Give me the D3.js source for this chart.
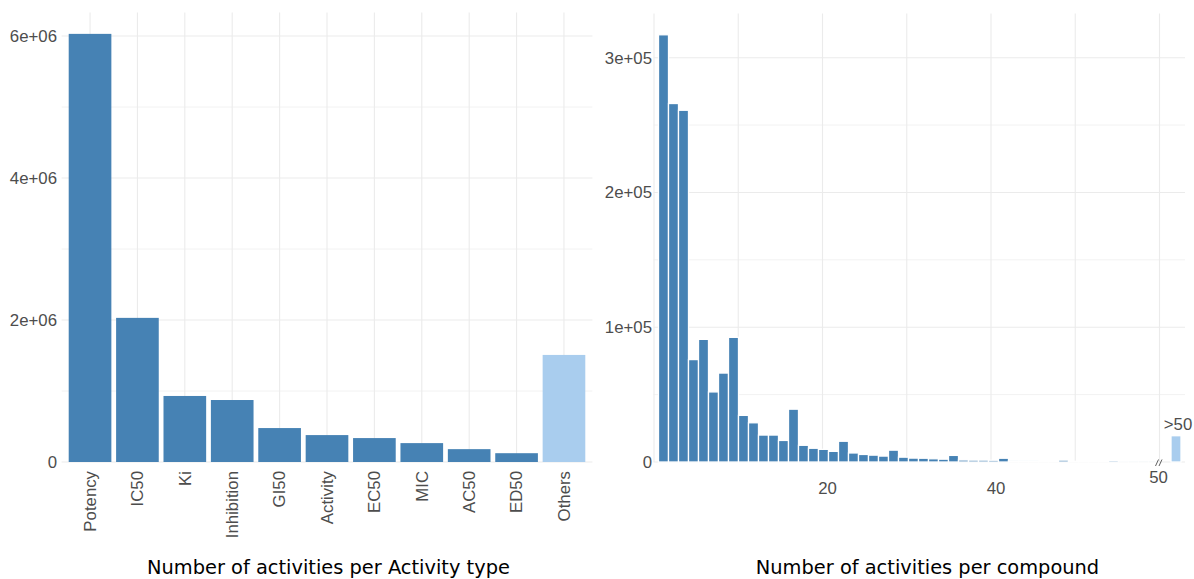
<!DOCTYPE html>
<html><head><meta charset="utf-8">
<script src="https://cdn.jsdelivr.net/npm/d3@7"></script>
<style>body{margin:0;background:#fff}svg{display:block}</style>
</head><body><svg id="c" width="1194" height="579"></svg>
<script>
// ---------- DATA ----------
const activityTypes = ["Potency","IC50","Ki","Inhibition","GI50","Activity","EC50","MIC","AC50","ED50","Others"];
const activityCounts = [6030000,2030000,930000,873000,478000,379000,337000,266000,181000,124000,1508000];
const highlightTypes = ["Others"];
const leftTickValues = [0,2e6,4e6,6e6];
const leftTickLabels = ["0","2e+06","4e+06","6e+06"];
const leftMinorTicks = [1e6,3e6,5e6];

const compoundBins = [1,2,3,4,5,6,7,8,9,10,11,12,13,14,15,16,17,18,19,20,21,22,23,24,25,26,27,28,29,30,31,32,33,34,35,36,37,38,39,40,41,42,43,44,45,46,47,48,49,50];
const compoundCounts = [317000,266000,261000,76000,91000,52000,66000,92500,34600,29100,20000,20000,16000,39200,12400,10200,9400,7900,15400,6700,5600,5100,4400,8800,3600,2900,2800,2400,2100,4900,1500,1400,1400,1300,2800,900,800,800,600,600,1400,500,400,400,400,1100,200,150,100,100];
const overflowLabel = ">50";
const overflowCount = 19500;
const rightTickValues = [0,1e5,2e5,3e5];
const rightTickLabels = ["0","1e+05","2e+05","3e+05"];
const rightMinorTicks = [5e4,1.5e5,2.5e5];
const rightGridValues = [0,10,20,30,40,50,60];
const rightXTickValues = [20,40];
const rightXTickLabels = ["20","40"];
const breakLabel = "50";

const leftTitle = "Number of activities per Activity type";
const rightTitle = "Number of activities per compound";

// ---------- STYLE ----------
const dark = "#4682b4", light = "#a9cdee";
const tickFont = "'Liberation Sans', Arial, sans-serif";
const titleFont = "'DejaVu Sans', sans-serif";
const tickColor = "#4d4d4d";
const gridMajor = "#ebebeb", gridMinor = "#f2f2f2";

const svg = d3.select("#c");
svg.append("rect").attr("width",1194).attr("height",579).attr("fill","#fff");

// ---------- LEFT PANEL ----------
const L = {x0: 61.6, x1: 592.4, y0: 462};
const xL = d3.scaleBand().domain(activityTypes).range([L.x0, L.x1]).paddingInner(0.1).paddingOuter(0.15);
const maxL = d3.max(activityCounts) * 1.05;
const yL = d3.scaleLinear().domain([0, maxL]).range([L.y0, L.y0 - maxL/1e6*71]);
const gL = svg.append("g");
gL.selectAll(".mn").data(leftMinorTicks).join("line")
  .attr("x1",L.x0).attr("x2",L.x1).attr("y1",d=>yL(d)).attr("y2",d=>yL(d))
  .attr("stroke",gridMinor).attr("stroke-width",1);
gL.selectAll(".mj").data(leftTickValues).join("line")
  .attr("x1",L.x0).attr("x2",L.x1).attr("y1",d=>yL(d)).attr("y2",d=>yL(d))
  .attr("stroke",gridMajor).attr("stroke-width",1.1);
gL.selectAll(".vg").data(activityTypes).join("line")
  .attr("x1",d=>xL(d)+xL.bandwidth()/2).attr("x2",d=>xL(d)+xL.bandwidth()/2)
  .attr("y1",yL(maxL)).attr("y2",L.y0)
  .attr("stroke",gridMajor).attr("stroke-width",1.1);
gL.selectAll(".bar").data(activityTypes).join("rect")
  .attr("x",d=>xL(d)).attr("width",xL.bandwidth())
  .attr("y",(d,i)=>yL(activityCounts[i])).attr("height",(d,i)=>yL(0)-yL(activityCounts[i]))
  .attr("fill",d=>highlightTypes.includes(d)?light:dark);
gL.selectAll(".yl").data(leftTickValues).join("text")
  .attr("x",57).attr("y",d=>yL(d)).attr("dy","0.35em").attr("text-anchor","end")
  .attr("font-family",tickFont).attr("font-size",16.8).attr("fill",tickColor)
  .text((d,i)=>leftTickLabels[i]);
gL.selectAll(".xl").data(activityTypes).join("text")
  .attr("transform",d=>`translate(${xL(d)+xL.bandwidth()/2},${L.y0+9}) rotate(-90)`)
  .attr("dy","0.35em").attr("text-anchor","end")
  .attr("font-family",tickFont).attr("font-size",16.8).attr("fill",tickColor)
  .text(d=>d);
svg.append("text").attr("x",(L.x0+L.x1)/2+1.5).attr("y",574).attr("text-anchor","middle")
  .attr("font-family",titleFont).attr("font-size",19.4).attr("fill","#000").text(leftTitle);

// ---------- RIGHT PANEL ----------
const R = {x0: 653.5, x1: 1185, y0: 462};
const xBar = d3.scaleLinear().domain([0.5, 50.5]).range([658.5, 1158.5]);
const xGrid = d3.scaleLinear().domain([0, 60]).range([654, 1159.5]);
const maxR = d3.max(compoundCounts) * 1.05;
const yR = d3.scaleLinear().domain([0, maxR]).range([R.y0, R.y0 - maxR/1e5*134.77]);
const gR = svg.append("g");
gR.selectAll(".mn").data(rightMinorTicks).join("line")
  .attr("x1",R.x0).attr("x2",R.x1).attr("y1",d=>yR(d)).attr("y2",d=>yR(d))
  .attr("stroke",gridMinor).attr("stroke-width",1);
gR.selectAll(".mj").data(rightTickValues).join("line")
  .attr("x1",R.x0).attr("x2",R.x1).attr("y1",d=>yR(d)).attr("y2",d=>yR(d))
  .attr("stroke",gridMajor).attr("stroke-width",1.1);
gR.selectAll(".vg").data(rightGridValues).join("line")
  .attr("x1",d=>xGrid(d)).attr("x2",d=>xGrid(d)).attr("y1",yR(maxR)).attr("y2",R.y0)
  .attr("stroke",gridMajor).attr("stroke-width",1.1);
gR.selectAll(".bar").data(compoundBins).join("rect")
  .attr("x",d=>xBar(d-0.5)).attr("width",d=>xBar(d+0.5)-xBar(d-0.5))
  .attr("y",(d,i)=>yR(compoundCounts[i])).attr("height",(d,i)=>yR(0)-yR(compoundCounts[i]))
  .attr("fill",dark).attr("stroke","#fff").attr("stroke-width",1.3);
const overflowPos = 52.25;
gR.append("rect")
  .attr("x",xBar(overflowPos-0.5)).attr("width",xBar(1.5)-xBar(0.5))
  .attr("y",yR(overflowCount)).attr("height",yR(0)-yR(overflowCount))
  .attr("fill",light).attr("stroke","#fff").attr("stroke-width",1.3);
gR.append("text").attr("x",xBar(overflowPos)+2).attr("y",yR(overflowCount)-6)
  .attr("text-anchor","middle").attr("font-family",tickFont).attr("font-size",16.8).attr("fill",tickColor)
  .text(overflowLabel);
gR.selectAll(".yl").data(rightTickValues).join("text")
  .attr("x",652).attr("y",d=>yR(d)).attr("dy","0.35em").attr("text-anchor","end")
  .attr("font-family",tickFont).attr("font-size",16.8).attr("fill",tickColor)
  .text((d,i)=>rightTickLabels[i]);
gR.selectAll(".xl").data(rightXTickValues).join("text")
  .attr("x",d=>xGrid(d)+5).attr("y",493.5).attr("text-anchor","middle")
  .attr("font-family",tickFont).attr("font-size",16.8).attr("fill",tickColor)
  .text((d,i)=>rightXTickLabels[i]);
// axis break mark
const bx = xBar(50.5);
[0,3.5].forEach(o=>{
  gR.append("line").attr("x1",bx-3+o).attr("y1",466).attr("x2",bx+o).attr("y2",459.5)
    .attr("stroke",tickColor).attr("stroke-width",0.9);
});
gR.append("text").attr("x",bx).attr("y",483).attr("text-anchor","middle")
  .attr("font-family",tickFont).attr("font-size",16.8).attr("fill",tickColor).text(breakLabel);
svg.append("text").attr("x",927.5).attr("y",574).attr("text-anchor","middle")
  .attr("font-family",titleFont).attr("font-size",19.4).attr("fill","#000").text(rightTitle);
</script></body></html>
